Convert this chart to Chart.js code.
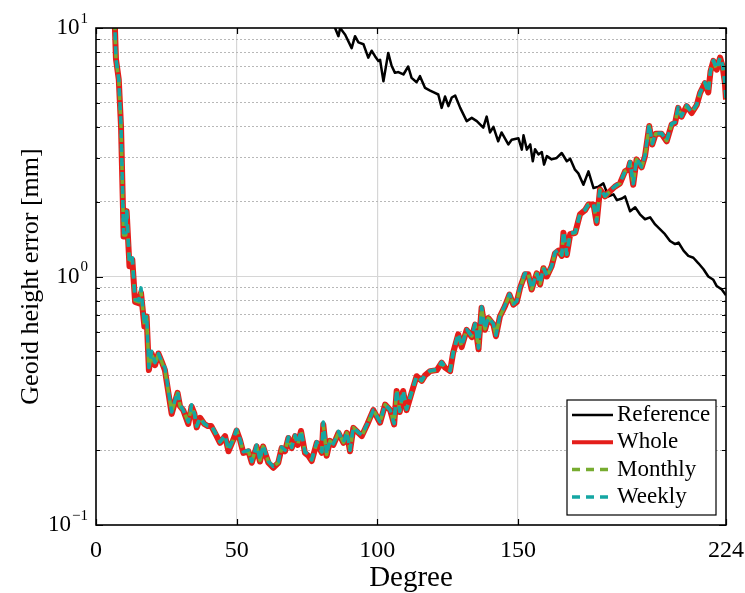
<!DOCTYPE html>
<html>
<head>
<meta charset="utf-8">
<script src="https://cdn.jsdelivr.net/npm/chart.js@4.4.0/dist/chart.umd.min.js"></script>
<style>
  body { margin: 0; background: #fff; }
</style>
</head>
<body>
<canvas id="geoidChart" width="745" height="593"></canvas>
<script>
// DATA
let seriesLabels = ['Reference', 'Whole', 'Monthly', 'Weekly'];
let xTickVals = [0, 50, 100, 150, 224];
let yTickVals = [0.1, 0.2, 0.3, 0.4, 0.5, 0.6, 0.7, 0.8, 0.9, 1, 2, 3, 4, 5, 6, 7, 8, 9, 10];

let refDeg = [82, 85, 86.2, 86.8, 88.6, 90.9, 92.1, 93.3, 95.1, 96.8,
    98, 99.2, 100.4, 101, 102.2, 103.9, 105.1, 106.3, 107.5, 109.3,
    111, 112.2, 114, 115.2, 117, 118.8, 120.5, 121.7, 122.9, 124.1,
    125.3, 126.5, 127.7, 129.5, 131.8, 133.6, 135.4, 137.7, 138.9, 140.1,
    141.3, 143, 144.2, 146.6, 147.8, 150.2, 151.4, 152, 153.2, 154.4,
    155.3, 156.1, 157.3, 158.5, 159.3, 160.3, 162, 163.8, 165.6, 167.4,
    168.6, 170.3, 171.5, 173.3, 175.1, 176.9, 178.7, 180.4, 182.2, 184,
    185.2, 187, 188.1, 189.9, 191.7, 193.4, 195.2, 197, 198.8, 200.5,
    202.3, 204.1, 205.9, 207.1, 208.9, 210.6, 212.4, 214.2, 216, 217.7,
    219.5, 220.7, 222.5, 224];
let refVals = [12, 10, 9.27, 10, 9.4, 8.3, 9.27, 8.75, 8.6, 7.6,
    8.1, 7.7, 7.37, 7.45, 6.1, 7.94, 7.05, 6.6, 6.65, 6.5,
    7.0, 6.3, 6.05, 6.4, 5.74, 5.6, 5.48, 5.4, 4.77, 5.3,
    4.85, 5.25, 5.35, 4.77, 4.22, 4.35, 4.22, 3.97, 4.4, 3.8,
    4.0, 3.5, 3.8, 3.4, 3.55, 3.6, 3.24, 3.7, 3.24, 3.4,
    2.91, 3.25, 3.1, 3.17, 2.82, 3.05, 2.96, 3.0, 3.14, 2.91,
    2.98, 2.69, 2.6, 2.34, 2.65, 2.27, 2.3, 2.37, 2.1, 2.14,
    2.03, 2.06, 2.1, 1.83, 1.9, 1.78, 1.7, 1.73, 1.62, 1.55,
    1.48, 1.39, 1.35, 1.37, 1.27, 1.21, 1.19, 1.13, 1.07, 1.0,
    0.97, 0.915, 0.886, 0.84];

let degrees = [6.5, 7.1, 8.1, 8.9, 9.6, 9.8, 10.6, 10.9, 11.9, 12.9,
    13.9, 15.2, 16, 17.2, 18, 18.8, 19.8, 21, 22.2, 23.5,
    24.5, 26.9, 29, 29.9, 31, 32.8, 34, 35, 35.8, 37,
    38.5, 39.8, 41, 42.9, 44.1, 45.9, 47.1, 48.8, 50, 51.2,
    52.4, 54.2, 55.4, 57.1, 58.3, 59.4, 61.3, 63, 64.8, 66,
    67.2, 68.4, 69.6, 70.8, 71.7, 72.9, 74.3, 75.5, 76.7, 78.5,
    80.3, 80.8, 82, 83.2, 84.4, 86.2, 88, 89.2, 90.3, 91.5,
    93.3, 94.5, 96.5, 98.6, 101, 102.8, 104.6, 106, 106.9, 108,
    109.2, 110.4, 112.2, 114, 115.8, 117, 118.8, 121.2, 122.9, 124.1,
    125.9, 127, 128.8, 130, 131.8, 133.6, 134.8, 136, 137.1, 138.3,
    139.5, 141.3, 142.2, 143.6, 145.4, 147, 148.4, 149.6, 150.8, 152.5,
    153.7, 154.9, 156.7, 157.9, 159.1, 160.3, 162, 163.2, 164.4, 165.6,
    166.2, 167.4, 168.6, 170.4, 172.1, 173.9, 175.1, 176.9, 178, 179.2,
    181, 182.7, 184.5, 186.3, 188.1, 189.3, 189.9, 191, 192.2, 194,
    195.2, 196.7, 197.8, 199, 201.1, 202.9, 204.7, 205.9, 207, 208.2,
    210, 211.8, 213.6, 214.8, 216.5, 217.7, 218.5, 219.5, 220.7, 221.9,
    222.8, 223.6, 224];
let wholeVals = [12, 7.5, 6.2, 4.0, 1.86, 1.45, 1.45, 1.83, 1.10, 1.17,
    0.79, 0.78, 0.86, 0.63, 0.69, 0.42, 0.49, 0.44, 0.49, 0.45,
    0.42, 0.28, 0.34, 0.30, 0.29, 0.255, 0.30, 0.28, 0.247, 0.27,
    0.255, 0.25, 0.25, 0.228, 0.214, 0.228, 0.198, 0.22, 0.24, 0.22,
    0.195, 0.198, 0.178, 0.207, 0.18, 0.207, 0.178, 0.17, 0.178, 0.204,
    0.198, 0.224, 0.204, 0.228, 0.21, 0.239, 0.195, 0.19, 0.181, 0.214,
    0.195, 0.254, 0.19, 0.218, 0.21, 0.235, 0.214, 0.235, 0.198, 0.246,
    0.235, 0.228, 0.255, 0.29, 0.258, 0.305, 0.29, 0.254, 0.346, 0.285,
    0.346, 0.29, 0.34, 0.397, 0.38, 0.40, 0.416, 0.42, 0.45, 0.43,
    0.416, 0.494, 0.585, 0.52, 0.61, 0.57, 0.64, 0.51, 0.748, 0.61,
    0.68, 0.64, 0.575, 0.69, 0.76, 0.846, 0.77, 0.79, 0.9, 1.02,
    1.02, 0.886, 1.03, 0.93, 1.08, 1.0, 1.1, 1.24, 1.27, 1.21,
    1.5, 1.22, 1.48, 1.5, 1.78, 1.85, 1.95, 1.95, 1.64, 2.24,
    2.1, 2.2, 2.3, 2.37, 2.65, 2.7, 2.87, 2.34, 2.96, 2.75,
    3.05, 4.03, 3.4, 3.75, 3.75, 3.5, 4.09, 4.15, 4.77, 4.4,
    4.85, 4.55, 4.9, 5.48, 6.0, 5.5, 6.7, 7.37, 6.8, 7.6,
    7.0, 6.0, 5.15];
let monthlyVals = [12, 7.5, 6.2, 4.0, 1.86, 1.47, 1.47, 1.83, 1.12, 1.17,
    0.80, 0.79, 0.87, 0.64, 0.69, 0.43, 0.49, 0.44, 0.49, 0.45,
    0.42, 0.285, 0.34, 0.30, 0.29, 0.26, 0.30, 0.28, 0.25, 0.27,
    0.255, 0.25, 0.25, 0.23, 0.216, 0.228, 0.2, 0.22, 0.24, 0.22,
    0.197, 0.198, 0.18, 0.207, 0.182, 0.207, 0.18, 0.172, 0.178, 0.204,
    0.198, 0.224, 0.205, 0.228, 0.21, 0.239, 0.197, 0.19, 0.183, 0.214,
    0.197, 0.254, 0.192, 0.218, 0.21, 0.235, 0.215, 0.235, 0.2, 0.246,
    0.235, 0.228, 0.255, 0.29, 0.26, 0.305, 0.29, 0.256, 0.346, 0.287,
    0.346, 0.292, 0.34, 0.397, 0.38, 0.40, 0.416, 0.42, 0.45, 0.43,
    0.418, 0.494, 0.585, 0.525, 0.61, 0.575, 0.64, 0.515, 0.748, 0.615,
    0.68, 0.645, 0.58, 0.69, 0.76, 0.846, 0.775, 0.79, 0.9, 1.02,
    1.02, 0.89, 1.03, 0.935, 1.08, 1.0, 1.1, 1.24, 1.27, 1.22,
    1.5, 1.23, 1.48, 1.5, 1.78, 1.85, 1.95, 1.95, 1.66, 2.24,
    2.1, 2.2, 2.3, 2.37, 2.65, 2.7, 2.87, 2.36, 2.96, 2.76,
    3.05, 4.03, 3.42, 3.75, 3.75, 3.52, 4.09, 4.15, 4.77, 4.42,
    4.85, 4.57, 4.9, 5.48, 6.0, 5.52, 6.7, 7.37, 6.8, 7.6,
    7.05, 6.0, 5.2];
let weeklyVals = [12, 7.5, 6.2, 4.0, 1.86, 1.5, 1.5, 1.83, 1.14, 1.19,
    0.81, 0.8, 0.9, 0.64, 0.7, 0.43, 0.5, 0.45, 0.49, 0.45,
    0.43, 0.285, 0.345, 0.305, 0.29, 0.26, 0.305, 0.28, 0.25, 0.27,
    0.256, 0.25, 0.252, 0.23, 0.216, 0.23, 0.2, 0.222, 0.242, 0.222,
    0.197, 0.2, 0.18, 0.21, 0.182, 0.21, 0.18, 0.172, 0.18, 0.206,
    0.2, 0.226, 0.205, 0.23, 0.212, 0.24, 0.197, 0.192, 0.183, 0.216,
    0.197, 0.26, 0.192, 0.22, 0.212, 0.238, 0.215, 0.237, 0.2, 0.248,
    0.236, 0.23, 0.256, 0.29, 0.26, 0.306, 0.29, 0.256, 0.35, 0.287,
    0.348, 0.292, 0.342, 0.398, 0.382, 0.402, 0.418, 0.422, 0.452, 0.432,
    0.418, 0.496, 0.59, 0.525, 0.612, 0.575, 0.645, 0.515, 0.755, 0.615,
    0.685, 0.645, 0.58, 0.695, 0.765, 0.85, 0.775, 0.795, 0.905, 1.03,
    1.025, 0.89, 1.035, 0.935, 1.085, 1.01, 1.1, 1.25, 1.28, 1.22,
    1.52, 1.23, 1.49, 1.51, 1.79, 1.86, 1.96, 1.96, 1.66, 2.26,
    2.11, 2.21, 2.31, 2.38, 2.66, 2.72, 2.9, 2.36, 2.98, 2.76,
    3.07, 4.1, 3.42, 3.77, 3.77, 3.52, 4.12, 4.17, 4.8, 4.42,
    4.88, 4.57, 4.93, 5.5, 6.05, 5.52, 6.75, 7.4, 6.85, 7.62,
    7.05, 6.05, 5.2];

let serif = "'Liberation Serif', 'DejaVu Serif', serif";
let lineColors = ['#000000', '#e41e1a', '#77ac30', '#14a6a3'];
let lineWidths = [2.5, 6, 3.5, 3.5];
let lineDashes = [[], [], [8, 6], [8, 6]];

function isMajor(v) {
    let l = Math.log10(v);
    return Math.abs(l - Math.round(l)) < 1e-6;
}

function toPoints(xs, ys) {
    let pts = [];
    for (let i = 0; i < xs.length; i++) {
        pts.push({ x: xs[i], y: ys[i] });
    }
    return pts;
}

// frame, inward ticks, y labels with exponents, legend box
let decorations = {
    id: 'decorations',
    afterDraw(chart) {
        let ctx = chart.ctx;
        let a = chart.chartArea;
        let xs = chart.scales.x, ys = chart.scales.y;
        ctx.save();
        ctx.strokeStyle = '#000';
        ctx.lineWidth = 1.2;
        ctx.beginPath();
        xTickVals.forEach(v => {
            let px = Math.round(xs.getPixelForValue(v)) + 0.5;
            ctx.moveTo(px, a.bottom); ctx.lineTo(px, a.bottom - 6);
            ctx.moveTo(px, a.top); ctx.lineTo(px, a.top + 6);
        });
        yTickVals.forEach(v => {
            let py = Math.round(ys.getPixelForValue(v)) + 0.5;
            let len = isMajor(v) ? 7 : 4;
            ctx.moveTo(a.left, py); ctx.lineTo(a.left + len, py);
            ctx.moveTo(a.right, py); ctx.lineTo(a.right - len, py);
        });
        ctx.stroke();
        ctx.lineWidth = 1.6;
        ctx.strokeRect(a.left, a.top, a.right - a.left, a.bottom - a.top);

        // y tick labels 10^n
        ctx.fillStyle = '#000';
        ctx.textBaseline = 'middle';
        ctx.textAlign = 'left';
        yTickVals.filter(isMajor).forEach(v => {
            let py = ys.getPixelForValue(v);
            let expo = String(Math.round(Math.log10(v))).replace('-', '\u2212');
            ctx.font = '23px ' + serif;
            let wBase = ctx.measureText('10').width;
            ctx.font = '15px ' + serif;
            let wExp = ctx.measureText(expo).width;
            let right = a.left - 8;
            ctx.font = '23px ' + serif;
            ctx.fillText('10', right - wExp - wBase - 1, py);
            ctx.font = '15px ' + serif;
            ctx.fillText(expo, right - wExp, py - 9);
        });

        // legend
        let box = { left: 567, top: 400, right: 716, bottom: 515 };
        ctx.fillStyle = '#fff';
        ctx.fillRect(box.left, box.top, box.right - box.left, box.bottom - box.top);
        ctx.lineWidth = 1.2;
        ctx.strokeStyle = '#000';
        ctx.strokeRect(box.left, box.top, box.right - box.left, box.bottom - box.top);
        ctx.font = '23px ' + serif;
        ctx.textBaseline = 'middle';
        seriesLabels.forEach((lab, i) => {
            let yy = 415 + i * 27.3;
            ctx.beginPath();
            ctx.setLineDash(lineDashes[i]);
            ctx.strokeStyle = lineColors[i];
            ctx.lineWidth = lineWidths[i] > 4 ? 4 : lineWidths[i];
            ctx.moveTo(572, yy); ctx.lineTo(613, yy);
            ctx.stroke();
            ctx.setLineDash([]);
            ctx.fillStyle = '#000';
            ctx.fillText(lab, 617, yy);
        });
        ctx.restore();
    }
};

let geoidCtx = document.getElementById('geoidChart').getContext('2d');
let geoidChart = new Chart(geoidCtx, {
    type: 'line',
    data: {
        datasets: [
            {
                label: seriesLabels[3],
                data: toPoints(degrees, weeklyVals),
                borderColor: lineColors[3],
                borderWidth: lineWidths[3],
                borderDash: lineDashes[3],
                borderDashOffset: 4,
                order: 0
            },
            {
                label: seriesLabels[2],
                data: toPoints(degrees, monthlyVals),
                borderColor: lineColors[2],
                borderWidth: lineWidths[2],
                borderDash: lineDashes[2],
                order: 1
            },
            {
                label: seriesLabels[1],
                data: toPoints(degrees, wholeVals),
                borderColor: lineColors[1],
                borderWidth: lineWidths[1],
                order: 2
            },
            {
                label: seriesLabels[0],
                data: toPoints(refDeg, refVals),
                borderColor: lineColors[0],
                borderWidth: lineWidths[0],
                order: 3
            }
        ]
    },
    options: {
        responsive: false,
        animation: false,
        elements: {
            point: { radius: 0, hoverRadius: 0 },
            line: { tension: 0, fill: false, borderJoinStyle: 'round', borderCapStyle: 'butt' }
        },
        datasets: { line: { clip: 0 } },
        layout: { padding: { top: 28, right: 19, left: 0, bottom: 0 } },
        plugins: { legend: { display: false }, tooltip: { enabled: false } },
        scales: {
            x: {
                type: 'linear',
                min: 0,
                max: 224,
                afterBuildTicks: s => { s.ticks = xTickVals.map(v => ({ value: v })); },
                afterFit: s => { s.height = 68; s.paddingLeft = 0; s.paddingRight = 0; },
                ticks: {
                    font: { family: serif, size: 24 },
                    color: '#000',
                    padding: 11,
                    maxRotation: 0,
                    autoSkip: false,
                    callback: v => String(v)
                },
                grid: {
                    drawTicks: false,
                    lineWidth: 1.2,
                    color: c => (c.tick && (c.tick.value === 0 || c.tick.value === 224)) ? 'rgba(0,0,0,0)' : '#d6d6d6'
                },
                border: { display: false },
                title: {
                    display: true,
                    text: 'Degree',
                    font: { family: serif, size: 29, lineHeight: 1 },
                    color: '#000',
                    padding: { top: 0, bottom: 0 }
                }
            },
            y: {
                type: 'logarithmic',
                min: 0.1,
                max: 10,
                afterBuildTicks: s => { s.ticks = yTickVals.map(v => ({ value: v })); },
                afterFit: s => { s.width = 96; },
                ticks: { display: false },
                grid: {
                    drawTicks: false,
                    lineWidth: 1,
                    color: c => {
                        if (!c.tick) return '#d6d6d6';
                        let v = c.tick.value;
                        if (Math.abs(v - 0.1) < 1e-9 || Math.abs(v - 10) < 1e-9) return 'rgba(0,0,0,0)';
                        return isMajor(v) ? '#d6d6d6' : '#b8b8b8';
                    }
                },
                border: {
                    display: false,
                    dash: c => (c.tick && !isMajor(c.tick.value)) ? [2, 2] : []
                },
                title: {
                    display: true,
                    text: 'Geoid height error [mm]',
                    font: { family: serif, size: 26 },
                    color: '#000',
                    padding: { top: 16, bottom: 0 }
                }
            }
        }
    },
    plugins: [decorations]
});
</script>
</body>
</html>
